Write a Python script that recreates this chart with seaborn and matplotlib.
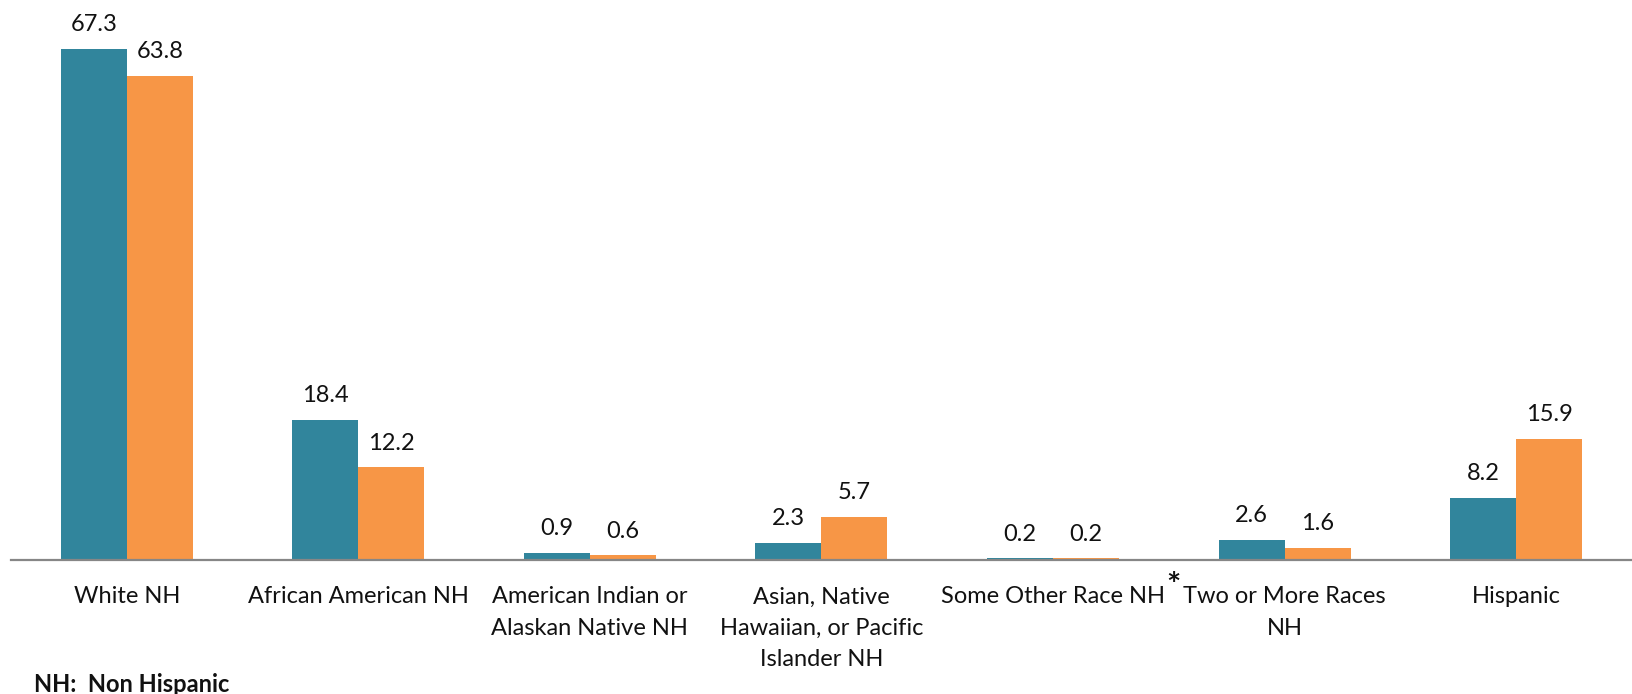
import seaborn as sns
from matplotlib import pyplot as plt
import pandas as pd

categories = ['White NH', 'African American NH', 'American Indian or\nAlaskan Native NH',
              'Asian, Native\nHawaiian, or Pacific\nIslander NH', 'Some Other Race NH',
              'Two or More Races\nNH', 'Hispanic']
series_a = [67.3, 18.4, 0.9, 2.3, 0.2, 2.6, 8.2]
series_b = [63.8, 12.2, 0.6, 5.7, 0.2, 1.6, 15.9]
series_names = ['Series 1', 'Series 2']
colors = ['#31859C', '#F79646']

df = pd.DataFrame({
    'category': categories * 2,
    'value': series_a + series_b,
    'series': [series_names[0]] * len(categories) + [series_names[1]] * len(categories),
})

sns.set_theme(style='white')
plt.rcParams['font.family'] = ['Lato', 'DejaVu Sans']

fig = plt.figure(figsize=(16.32, 6.94), dpi=100)
ax = fig.add_axes([0.0067, 0.1931, 0.9933, 0.8069])

sns.barplot(data=df, x='category', y='value', hue='series', palette=colors,
            width=0.57, saturation=1, legend=False, ax=ax, linewidth=0)

for c in ax.containers:
    ax.bar_label(c, fmt='%.1f', padding=10, fontsize=17, color='#111111')

ax.set_ylim(0, 73.8)
ax.set_xlim(-0.5, 6.5)
ax.set_yticks([])
ax.set_xticks(range(len(categories)), categories, linespacing=1.6)
ax.set_xlabel('')
ax.set_ylabel('')
for s in ['top', 'right', 'left']:
    ax.spines[s].set_visible(False)
ax.spines['bottom'].set_color('#868686')
ax.spines['bottom'].set_linewidth(1.6)
ax.tick_params(axis='x', length=0, pad=19, labelsize=17, labelcolor='#111111')

# footnote marker between the two middle categories
ax.annotate('*', xy=(4.5, 0), xycoords=('data', 'axes fraction'),
            xytext=(3, -19), textcoords='offset points', ha='center', va='center',
            fontsize=24, fontweight='bold', color='#111111', annotation_clip=False)

fig.text(0.021, 0.014, 'NH:  Non Hispanic', fontsize=17, fontweight='bold',
         va='center', ha='left', color='#111111')

plt.savefig('out.png', dpi=100)
